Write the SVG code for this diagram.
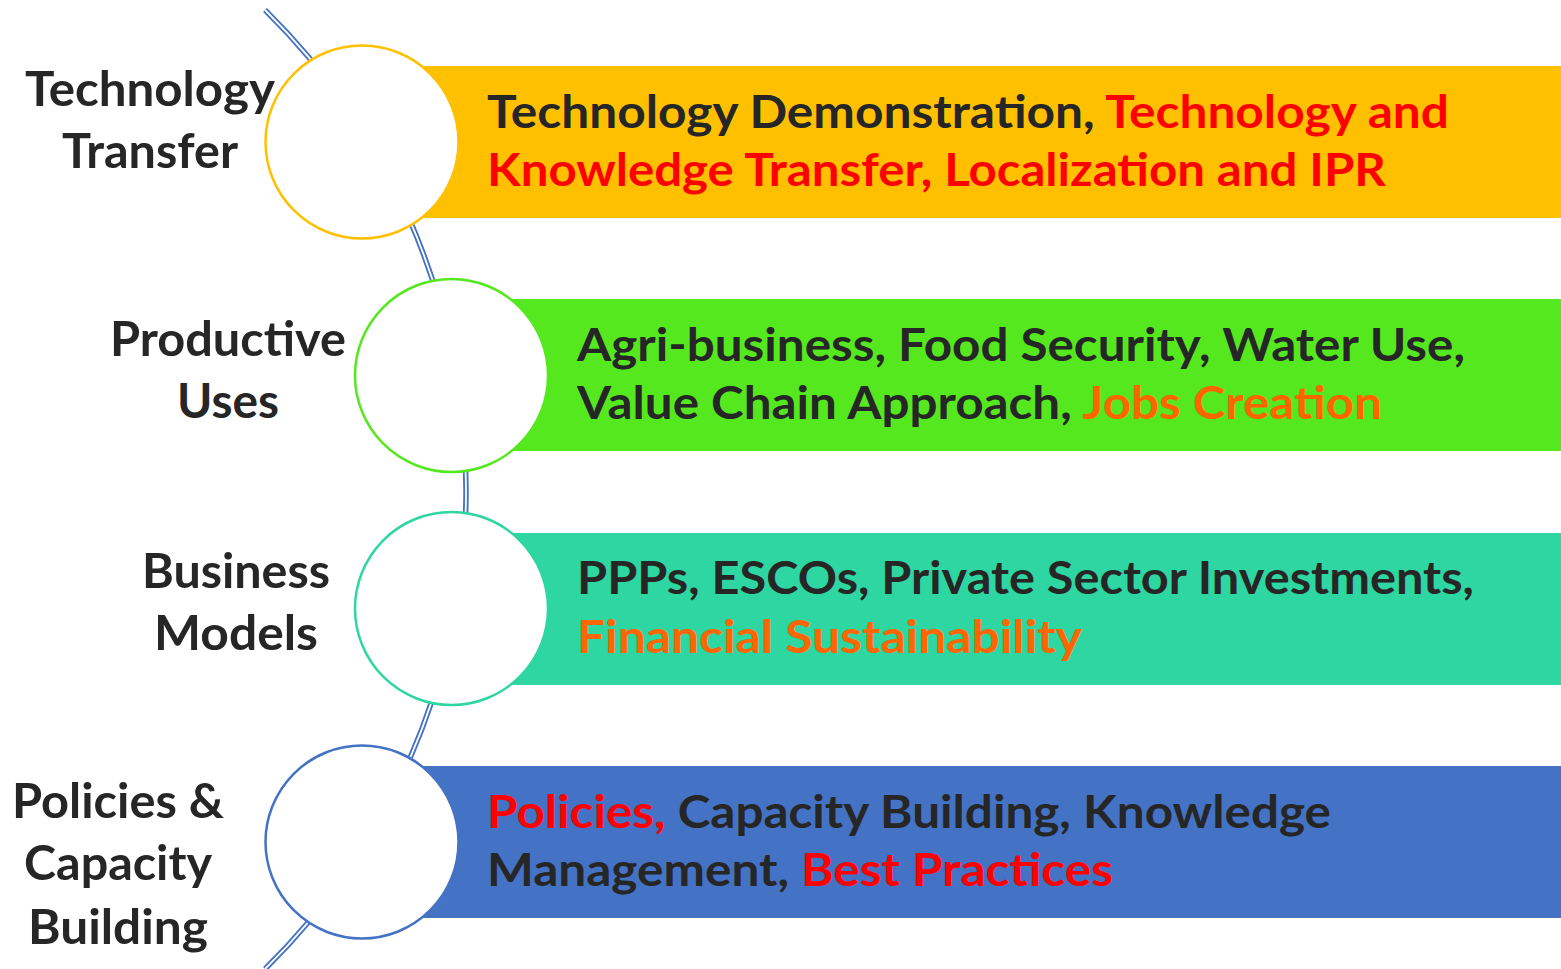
<svg xmlns="http://www.w3.org/2000/svg" width="1561" height="969" viewBox="0 0 1561 969">
<style>
.lbl{font-family:Lato,"Open Sans","Liberation Sans",sans-serif;font-weight:bold;font-size:48px;fill:#262626;text-anchor:middle}
.bt{font-family:Lato,"Open Sans","Liberation Sans",sans-serif;font-weight:bold;font-size:46px;fill:#262626}
.red{fill:#FF0000}
.org{fill:#FF6600}
.circ{fill:#FFFFFF;stroke-width:2.5}
</style>
<rect width="1561" height="969" fill="#FFFFFF"/>
<g id="connectors">
<path d="M265,10 A672.4,672.4 0 0 1 265,969" fill="none" stroke="#4472C4" stroke-width="5.5"/>
<path d="M265,10 A672.4,672.4 0 0 1 265,969" fill="none" stroke="#FFFFFF" stroke-width="1.8"/>
</g>
<g id="node-technology-transfer">
<rect x="362" y="66" width="1199" height="152" fill="#FFC000"/>
<circle class="circ" cx="362" cy="142" r="96.5" stroke="#FFC000"/>
<text class="lbl" x="150" y="106" textLength="250" lengthAdjust="spacingAndGlyphs">Technology</text>
<text class="lbl" x="150" y="168" textLength="176" lengthAdjust="spacingAndGlyphs">Transfer</text>
<text class="bt" x="487" y="128" textLength="962" lengthAdjust="spacingAndGlyphs">Technology Demonstration, <tspan class="red">Technology and</tspan></text>
<text class="bt red" x="487" y="186" textLength="899" lengthAdjust="spacingAndGlyphs">Knowledge Transfer, Localization and IPR</text>
</g>
<g id="node-productive-uses">
<rect x="452" y="299" width="1109" height="152" fill="#55E81F"/>
<circle class="circ" cx="451.5" cy="375.5" r="96.5" stroke="#55E81F"/>
<text class="lbl" x="228" y="356" textLength="236" lengthAdjust="spacingAndGlyphs">Productive</text>
<text class="lbl" x="228" y="418" textLength="102" lengthAdjust="spacingAndGlyphs">Uses</text>
<text class="bt" x="577" y="361" textLength="888" lengthAdjust="spacingAndGlyphs">Agri-business, Food Security, Water Use,</text>
<text class="bt" x="577" y="419" textLength="805" lengthAdjust="spacingAndGlyphs">Value Chain Approach, <tspan class="org">Jobs Creation</tspan></text>
</g>
<g id="node-business-models">
<rect x="452" y="533" width="1109" height="152" fill="#2ED6A2"/>
<circle class="circ" cx="451.5" cy="608.5" r="96.5" stroke="#2ED6A2"/>
<text class="lbl" x="236" y="588" textLength="188" lengthAdjust="spacingAndGlyphs">Business</text>
<text class="lbl" x="236" y="650" textLength="164" lengthAdjust="spacingAndGlyphs">Models</text>
<text class="bt" x="577" y="594" textLength="897" lengthAdjust="spacingAndGlyphs">PPPs, ESCOs, Private Sector Investments,</text>
<text class="bt org" x="577" y="653" textLength="505" lengthAdjust="spacingAndGlyphs">Financial Sustainability</text>
</g>
<g id="node-policies-capacity-building">
<rect x="362" y="766" width="1199" height="152" fill="#4472C4"/>
<circle class="circ" cx="362" cy="842" r="96.5" stroke="#4472C4"/>
<text class="lbl" x="118" y="818" textLength="212" lengthAdjust="spacingAndGlyphs">Policies &amp;</text>
<text class="lbl" x="118" y="880" textLength="188" lengthAdjust="spacingAndGlyphs">Capacity</text>
<text class="lbl" x="118" y="944" textLength="180" lengthAdjust="spacingAndGlyphs">Building</text>
<text class="bt" x="487" y="828" textLength="844" lengthAdjust="spacingAndGlyphs"><tspan class="red">Policies,</tspan> Capacity Building, Knowledge</text>
<text class="bt" x="487" y="886" textLength="626" lengthAdjust="spacingAndGlyphs">Management, <tspan class="red">Best Practices</tspan></text>
</g>
</svg>
